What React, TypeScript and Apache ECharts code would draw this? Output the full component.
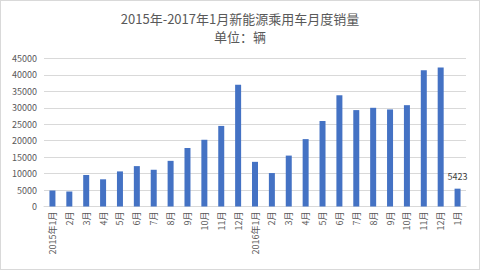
import React, { useEffect, useRef } from "react";
import * as echarts from "echarts";

const categories = [
  "2015年1月", "2月", "3月", "4月", "5月", "6月", "7月", "8月", "9月", "10月", "11月", "12月",
  "2016年1月", "2月", "3月", "4月", "5月", "6月", "7月", "8月", "9月", "10月", "11月", "12月",
  "1月",
];
const sales = [
  4860, 4560, 9570, 8270, 10670, 12280, 11170, 13880, 17790, 20290, 24500, 37020,
  13580, 10170, 15480, 20490, 26000, 33820, 29310, 30010, 29510, 30810, 41430, 42230,
  5423,
];
const yTicks = { min: 0, max: 45000, interval: 5000 };
const titleText = "2015年-2017年1月新能源乘用车月度销量";
const subtitleText = "单位：辆";

export default function App() {
  const ref = useRef<HTMLDivElement>(null);
  useEffect(() => {
    if (!ref.current) return;
    const chart = echarts.init(ref.current, null, { renderer: "svg" });
    const font = "'Noto Sans CJK SC', 'Liberation Sans', sans-serif";
    chart.setOption({
      animation: false,
      backgroundColor: "#ffffff",
      textStyle: { fontFamily: font },
      title: [
        {
          text: titleText,
          left: "center",
          top: 10,
          padding: 0,
          textStyle: { fontSize: 13, fontWeight: "normal", color: "#595959", fontFamily: font, lineHeight: 14 },
        },
        {
          text: subtitleText,
          left: "center",
          top: 28,
          padding: 0,
          textStyle: { fontSize: 13, fontWeight: "normal", color: "#595959", fontFamily: font, lineHeight: 14 },
        },
      ],
      grid: { left: 43, right: 13, top: 57.5, bottom: 62.5, containLabel: false },
      xAxis: {
        type: "category",
        data: categories,
        axisLine: { lineStyle: { color: "#d9d9d9" } },
        axisTick: { show: false },
        axisLabel: {
          rotate: 90,
          interval: 0,
          fontSize: 9,
          color: "#595959",
          margin: 5,
          fontFamily: font,
        },
      },
      yAxis: {
        type: "value",
        min: yTicks.min,
        max: yTicks.max,
        interval: yTicks.interval,
        axisLine: { show: false },
        axisTick: { show: false },
        splitLine: { lineStyle: { color: "#d9d9d9" } },
        axisLabel: {
          fontSize: 9,
          color: "#595959",
          margin: 7,
          fontFamily: font,
          formatter: (v: number) => String(v),
        },
      },
      series: [
        {
          type: "bar",
          data: sales.map((v, i) =>
            i === sales.length - 1
              ? {
                  value: v,
                  label: {
                    show: true,
                    position: "top",
                    fontSize: 9,
                    color: "#404040",
                    distance: 8,
                    fontFamily: font,
                  },
                }
              : v
          ),
          barWidth: 6,
          itemStyle: { color: "#4472C4" },
        },
      ],
    });
    return () => chart.dispose();
  }, []);
  return (
    <div
      style={{
        position: "fixed",
        left: 0,
        top: 0,
        width: 480,
        height: 270,
        boxSizing: "border-box",
        border: "1px solid #d9d9d9",
        background: "#fff",
      }}
    >
      <div ref={ref} style={{ width: 478, height: 268 }} />
    </div>
  );
}
